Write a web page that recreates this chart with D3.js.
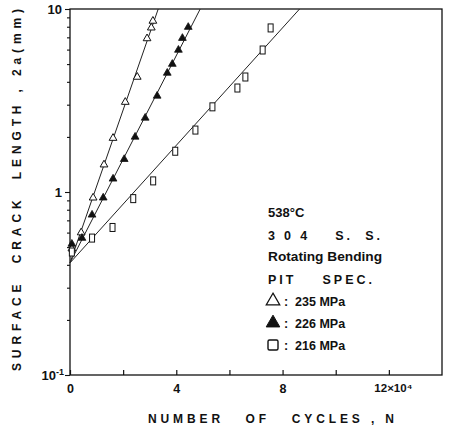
<!DOCTYPE html>
<html>
<head>
<meta charset="utf-8">
<script src="https://cdn.jsdelivr.net/npm/d3@7"></script>
<style>
  html, body { margin: 0; padding: 0; background: #fff; }
  svg { display: block; }
  text { font-family: "Liberation Sans", Arial, sans-serif; font-weight: bold; fill: #111; white-space: pre; }
</style>
</head>
<body>
<svg id="chart" width="455" height="433"></svg>
<script>
// Crack growth, 304 stainless steel at 538 °C, rotating bending, pit specimens
// N in units of 10^4 cycles, crack length 2a in mm

const openN   = [0.07, 0.42, 0.87, 1.28, 1.62, 2.08, 2.53, 2.90, 3.06, 3.12];
const openA   = [0.49, 0.60, 0.93, 1.41, 1.97, 3.10, 4.25, 6.90, 7.90, 8.60];

const filledN = [0.07, 0.45, 0.83, 1.25, 1.62, 2.04, 2.45, 2.83, 3.28, 3.66, 3.85, 4.08, 4.23, 4.45];
const filledA = [0.52, 0.56, 0.75, 0.93, 1.18, 1.51, 2.00, 2.54, 3.35, 4.47, 5.00, 5.97, 6.93, 7.96];

const squareN = [0.07, 0.83, 1.60, 2.38, 3.13, 3.96, 4.72, 5.36, 6.30, 6.60, 7.25, 7.55];
const squareA = [0.47, 0.56, 0.64, 0.92, 1.15, 1.67, 2.18, 2.92, 3.70, 4.25, 5.97, 7.88];

// fitted lines: start and end points [N, 2a]
const openFit   = [[0, 0.41], [3.32, 10]];
const filledFit = [[0, 0.41], [4.90, 10]];
const squareFit = [[0, 0.41], [8.64, 10]];

const xTicks = [0, 2, 4, 6, 8, 10, 12];
const xTickLabels = ["0", "", "4", "", "8", "", "12×10⁴"];
const yDecades = [0.1, 1, 10];

const legendStress = ["235 MPa", "226 MPa", "216 MPa"];

const svg = d3.select("#chart");
const x = d3.scaleLinear().domain([0, 14]).range([70, 442]);
const y = d3.scaleLog().domain([0.1, 10]).range([375, 9]);

const ink = "#111";

// frame
svg.append("rect")
  .attr("x", x(0)).attr("y", y(10))
  .attr("width", x(14) - x(0)).attr("height", y(0.1) - y(10))
  .attr("fill", "none").attr("stroke", ink).attr("stroke-width", 1.3);

// x axis ticks (pointing into the plot) and labels
const xAxis = svg.append("g").attr("transform", `translate(0,${y(0.1)})`)
  .call(d3.axisBottom(x).tickValues(xTicks).tickSize(-5).tickFormat((d, i) => xTickLabels[i]));
xAxis.select(".domain").remove();
xAxis.selectAll("line").attr("stroke", ink).attr("stroke-width", 1.2);
xAxis.selectAll("text").attr("y", 9).attr("font-size", 12.5)
  .style("font-family", "'Liberation Sans', Arial, sans-serif").style("font-weight", "bold").attr("fill", ink);
xAxis.selectAll(".tick").filter(d => d === 12).select("text").attr("dx", 4).attr("font-size", 11.5);

// y axis: minor ticks on a log scale, decade labels
const yMinor = [];
[0.1, 1].forEach(dec => { for (let k = 2; k <= 9; k++) yMinor.push(dec * k); });
const yAxis = svg.append("g").attr("transform", `translate(${x(0)},0)`)
  .call(d3.axisLeft(y).tickValues(yMinor.concat(yDecades)).tickSize(3).tickFormat(""));
yAxis.select(".domain").remove();
yAxis.selectAll("line").attr("stroke", ink).attr("stroke-width", 1.1);
yAxis.selectAll(".tick").filter(d => yDecades.includes(d)).select("line").attr("x2", -5);

const yLab = svg.append("g");
yLab.append("text").attr("x", x(0) - 8).attr("y", y(10) + 5).attr("text-anchor", "end")
  .attr("font-size", 13).text("10");
yLab.append("text").attr("x", x(0) - 8).attr("y", y(1) + 5).attr("text-anchor", "end")
  .attr("font-size", 13).text("1");
const tm = yLab.append("text").attr("x", x(0) - 6).attr("y", y(0.1) + 5).attr("text-anchor", "end")
  .attr("font-size", 13);
tm.append("tspan").text("10");
tm.append("tspan").attr("dy", -5).attr("font-size", 9).text("-1");

// fitted lines
const line = d3.line().x(d => x(d[0])).y(d => y(d[1]));
[openFit, filledFit, squareFit].forEach(f => {
  svg.append("path").attr("d", line(f)).attr("fill", "none")
    .attr("stroke", "#222").attr("stroke-width", 1);
});

// markers
const tri = d3.symbol().type(d3.symbolTriangle).size(26);
const zip = (a, b) => a.map((v, i) => [v, b[i]]);

svg.append("g").selectAll("path").data(zip(openN, openA)).join("path")
  .attr("d", tri).attr("transform", d => `translate(${x(d[0])},${y(d[1])})`)
  .attr("fill", "#fff").attr("stroke", ink).attr("stroke-width", 1);

svg.append("g").selectAll("path").data(zip(filledN, filledA)).join("path")
  .attr("d", tri).attr("transform", d => `translate(${x(d[0])},${y(d[1])})`)
  .attr("fill", ink).attr("stroke", ink).attr("stroke-width", 0.8);

svg.append("g").selectAll("rect").data(zip(squareN, squareA)).join("rect")
  .attr("x", d => x(d[0]) - 2.5).attr("y", d => y(d[1]) - 4)
  .attr("width", 5).attr("height", 8)
  .attr("fill", "#fff").attr("stroke", ink).attr("stroke-width", 1);

// annotation block
const lg = svg.append("g").attr("transform", "translate(268,0)");
lg.append("text").attr("x", 0).attr("y", 217).attr("font-size", 13).text("538°C");
lg.append("text").attr("x", 0).attr("y", 240).attr("font-size", 12.5)
  .attr("textLength", 112).attr("lengthAdjust", "spacing").text("3 0 4    S.  S.");
lg.append("text").attr("x", 0).attr("y", 261).attr("font-size", 12)
  .attr("textLength", 114).attr("lengthAdjust", "spacingAndGlyphs").text("Rotating Bending");
lg.append("text").attr("x", 0).attr("y", 284).attr("font-size", 12.5)
  .attr("textLength", 104).attr("lengthAdjust", "spacing").text("PIT    SPEC.");

const legSym = [
  g => g.append("path").attr("d", d3.symbol().type(d3.symbolTriangle).size(80)).attr("fill", "#fff").attr("stroke", ink).attr("stroke-width", 1.2),
  g => g.append("path").attr("d", d3.symbol().type(d3.symbolTriangle).size(80)).attr("fill", ink).attr("stroke", ink),
  g => g.append("rect").attr("x", -5).attr("y", -5).attr("width", 10).attr("height", 10).attr("rx", 1.5).attr("fill", "#fff").attr("stroke", ink).attr("stroke-width", 1.4)
];
const stressY = [306, 328, 350];
legendStress.forEach((t, i) => {
  const yy = stressY[i];
  legSym[i](lg.append("g").attr("transform", `translate(5,${yy - 5})`));
  lg.append("text").attr("x", 16).attr("y", yy).attr("font-size", 12.5).text(":  " + t);
});

// axis titles
svg.append("text").attr("x", 271).attr("y", 423).attr("text-anchor", "middle")
  .attr("font-size", 12).attr("textLength", 246).attr("lengthAdjust", "spacing")
  .text("NUMBER   OF   CYCLES , N");
svg.append("text").attr("transform", "translate(21,190) rotate(-90)").attr("text-anchor", "middle")
  .attr("font-size", 12).attr("textLength", 362).attr("lengthAdjust", "spacing")
  .text("SURFACE  CRACK  LENGTH , 2a(mm)");
</script>
</body>
</html>
